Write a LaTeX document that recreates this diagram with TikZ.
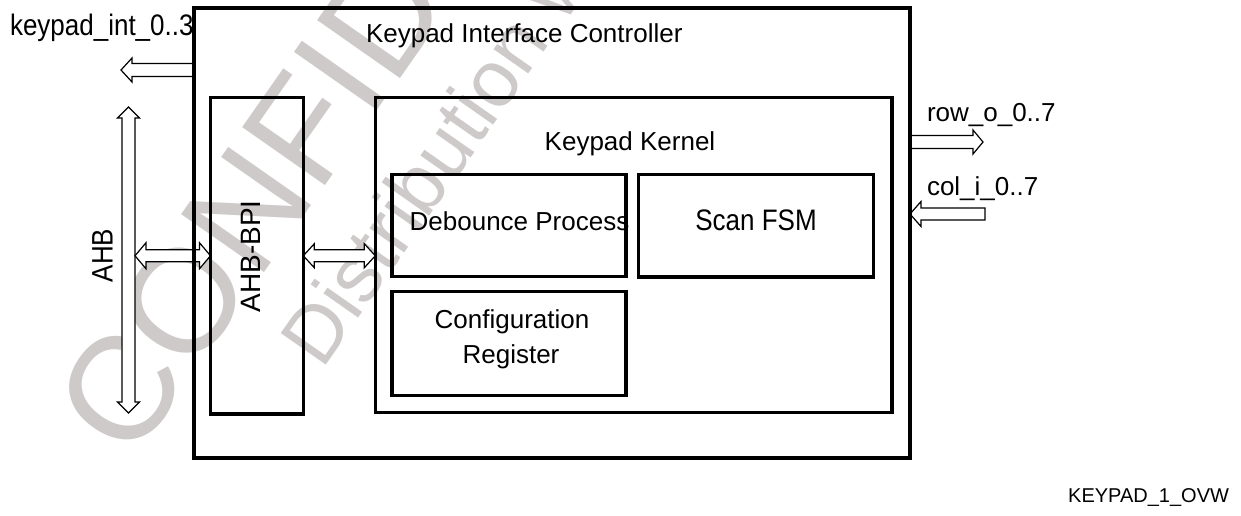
\documentclass[tikz,border=0pt]{standalone}
\usepackage{fontspec}
\setmainfont{Liberation Sans}
\usetikzlibrary{calc}
\definecolor{wm}{RGB}{206,202,202}
\tikzset{
  box/.style={draw=black, line width=3.5pt, inner sep=0pt, outer sep=0pt, rectangle},
  lbl/.style={font=\fontsize{26}{31}\selectfont, inner sep=0pt, outer sep=0pt},
  hollowarrow/.style={draw=black, line width=1.2pt, fill=white, line join=miter},
  wmark/.style={text=wm, inner sep=0pt, outer sep=0pt, anchor=base west},
}
% #1 from, #2 to, #3 head length, #4 head half width, #5 shaft half width
\newcommand\kpDbl[5]{%
  \coordinate (da1) at ($(#1)!#3!(#2)$);
  \coordinate (da2) at ($(#2)!#3!(#1)$);
  \draw[hollowarrow] (#1) -- ($(da1)!#4!90:(#2)$) -- ($(da1)!#5!90:(#2)$)
    -- ($(da2)!#5!-90:(#1)$) -- ($(da2)!#4!-90:(#1)$) -- (#2)
    -- ($(da2)!#4!90:(#1)$) -- ($(da2)!#5!90:(#1)$)
    -- ($(da1)!#5!-90:(#2)$) -- ($(da1)!#4!-90:(#2)$) -- cycle;}
% #1 tail, #2 tip
\newcommand\kpSgl[5]{%
  \coordinate (sa) at ($(#2)!#3!(#1)$);
  \draw[hollowarrow] ($(#1)!#5!90:(#2)$) -- ($(sa)!#5!-90:(#1)$)
    -- ($(sa)!#4!-90:(#1)$) -- (#2) -- ($(sa)!#4!90:(#1)$)
    -- ($(sa)!#5!90:(#1)$) -- ($(#1)!#5!-90:(#2)$) -- cycle;}
\newcommand\kpTall[1]{\scalebox{1}[1.14]{#1}}
\begin{document}
\begin{tikzpicture}[x=1pt,y=-1pt]
\useasboundingbox (0,0) rectangle (1241,515);
\clip (0,0) rectangle (1241,515);
% watermark
\node[wmark, rotate=55, font=\fontsize{147}{147}\selectfont] (wm1) at (131,463) {CONFIDENTIAL};
\node[wmark, rotate=55, font=\fontsize{80}{80}\selectfont] (wm2) at (322,370) {Distribution w};
% box geometry (invisible placeholders for anchors)
\path (552,232.75) node[box, draw=none, minimum width=716pt, minimum height=450.5pt] (kic) {};
\path (256.9,255.75) node[box, draw=none, minimum width=92.8pt, minimum height=316.1pt] (bpi) {};
\path (633.65,255.2) node[box, draw=none, minimum width=516.7pt, minimum height=315pt] (kernel) {};
% arrows
\coordinate (kiTip) at (121,70);
\coordinate (kiTail) at (kic.west |- kiTip);
\kpSgl{kiTail}{kiTip}{11pt}{12pt}{6.5pt}
\coordinate (ahbTop) at (128.5,107);
\coordinate (ahbBot) at (128.5,413);
\kpDbl{ahbTop}{ahbBot}{11pt}{11pt}{6.5pt}
\coordinate (ahbR) at (135,255.75);
\kpDbl{ahbR}{bpi.west}{11pt}{13pt}{6pt}
\coordinate (kerL) at (kernel.west |- bpi.east);
\kpDbl{bpi.east}{kerL}{11pt}{12pt}{6pt}
\coordinate (rowTip) at (983,142);
\coordinate (rowTail) at (kic.east |- rowTip);
\kpSgl{rowTail}{rowTip}{10pt}{12pt}{6.5pt}
\coordinate (colTail) at (985,214);
\coordinate (colTip) at (kic.east |- colTail);
\kpSgl{colTail}{colTip}{11pt}{12.5pt}{6pt}
% boxes
\draw[box, line width=4pt] (kic.north west) rectangle (kic.south east);
\draw[box] (bpi.north west) rectangle (bpi.south east);
\draw[box] (kernel.north west) rectangle (kernel.south east);
\node[box, minimum width=234pt, minimum height=102pt] (deb) at (509,225.7) {};
\node[box, minimum width=235pt, minimum height=102.5pt] (fsm) at (755.8,225.75) {};
\node[box, minimum width=234pt, minimum height=104pt] (cfg) at (509,343.7) {};
% labels
\node[lbl, anchor=base west] (kicl) at (366,42.3) {Keypad Interface Controller};
\node[lbl, anchor=base] (kkl) at (630,150) {Keypad Kernel};
\node[lbl, anchor=base] (debl) at (519.5,230) {Debounce Process};
\node[lbl, anchor=base] (fsml) at (756,230.7) {\kpTall{Scan FSM}};
\node[lbl, anchor=base] (cfgl1) at (512,328.3) {Configuration};
\node[lbl, anchor=base] (cfgl2) at (511,363.3) {Register};
\node[lbl, rotate=90, anchor=base] (ahbl) at (112.7,255.5) {\kpTall{AHB}};
\node[lbl, font=\fontsize{28}{33}\selectfont, rotate=90, anchor=base] (bpil) at (260,256.5) {AHB-BPI};
\node[lbl, anchor=base west] (kil) at (10,35.5) {\kpTall{keypad\_int\_0..3}};
\node[lbl, anchor=base west] (rowl) at (927,121.7) {row\_o\_0..7};
\node[lbl, anchor=base west] (coll) at (927,195) {col\_i\_0..7};
\node[font=\fontsize{20}{24}\selectfont, inner sep=0pt, anchor=base west] (ovw) at (1068,502) {KEYPAD\_1\_OVW};
\end{tikzpicture}
\end{document}
